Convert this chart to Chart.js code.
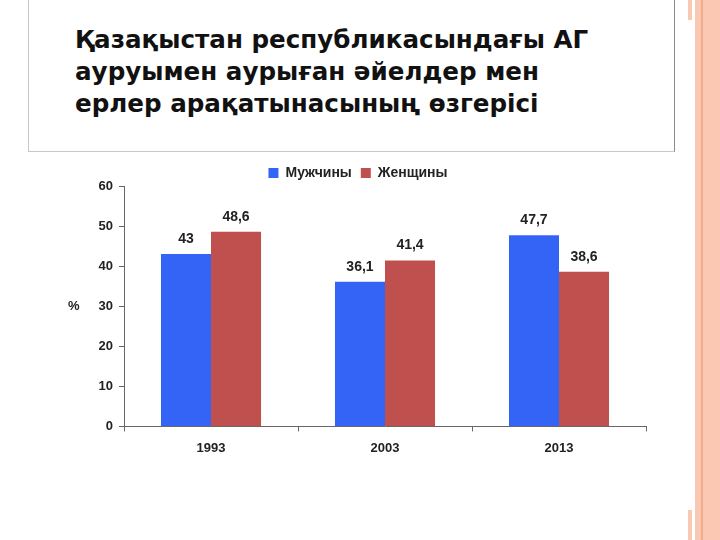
<!DOCTYPE html>
<html>
<head>
<meta charset="utf-8">
<script src="https://cdn.jsdelivr.net/npm/chart.js@4"></script>
<style>
  html, body { margin: 0; padding: 0; background: #fff; }
  body { width: 720px; height: 540px; position: relative; overflow: hidden; }
  #titlebox {
    position: absolute; left: 28px; top: -1px; width: 645px; height: 152px;
    border-left: 1px solid #c8c8c8; border-bottom: 1px solid #c8c8c8; border-right: 1px solid #8a8a8a;
  }
  #titlebox h1 {
    margin: 0; position: absolute; left: 46px; top: 25px;
    font: bold 24.6px "DejaVu Sans", sans-serif; line-height: 32px; color: #111;
  }
  .stripe { position: absolute; top: 0; height: 540px; }
  .tick { position: absolute; width: 4px; background: #f9c9b4; }
  #wrap { position: absolute; left: 0; top: 0; width: 720px; height: 540px; }
</style>
</head>
<body>
<div class="stripe" style="left:695px;width:25px;background:#fbc9b3"></div>
<div class="stripe" style="left:701px;width:2px;background:#f2ab8c"></div>
<div class="tick" style="left:688px;top:0;height:20px"></div>
<div class="tick" style="left:688px;top:510px;height:30px"></div>
<div id="titlebox"><h1>Қазақыстан республикасындағы АГ<br>ауруымен аурыған әйелдер мен<br>ерлер арақатынасының өзгерісі</h1></div>
<div id="wrap"><canvas id="chart" width="720" height="540"></canvas></div>
<script>
const years = ['1993', '2003', '2013'];
const men = [43, 36.1, 47.7];
const women = [48.6, 41.4, 38.6];
const seriesNames = ['Мужчины', 'Женщины'];

const font = 'Liberation Sans, Arial, sans-serif';

// values above the bars, with a comma for decimals
const barLabels = {
  id: 'barLabels',
  afterDatasetsDraw(chart) {
    const ctx = chart.ctx;
    ctx.save();
    ctx.font = 'bold 14px ' + font;
    ctx.fillStyle = '#222';
    ctx.textAlign = 'center';
    ctx.textBaseline = 'bottom';
    chart.data.datasets.forEach((ds, i) => {
      chart.getDatasetMeta(i).data.forEach((bar, j) => {
        ctx.fillText(String(ds.data[j]).replace('.', ','), bar.x, bar.y - 8);
      });
    });
    ctx.restore();
  }
};

// "%" written flat, left of the y axis
const yTitle = {
  id: 'yTitle',
  afterDraw(chart) {
    const y = chart.scales.y;
    const ctx = chart.ctx;
    ctx.save();
    ctx.font = 'bold 13px ' + font;
    ctx.fillStyle = '#222';
    ctx.textAlign = 'left';
    ctx.textBaseline = 'middle';
    ctx.fillText('%', 68, y.getPixelForValue(30));
    ctx.restore();
  }
};

// legend keeps its item spacing but takes less room below it
const shortLegend = {
  id: 'shortLegend',
  beforeInit(chart) {
    const fit = chart.legend.fit;
    chart.legend.fit = function () {
      fit.call(this);
      this.height -= 4;
    };
  }
};

new Chart(document.getElementById('chart'), {
  type: 'bar',
  data: {
    labels: years,
    datasets: [
      { label: seriesNames[0], data: men, backgroundColor: '#3464f6' },
      { label: seriesNames[1], data: women, backgroundColor: '#c0504d' }
    ]
  },
  options: {
    responsive: false,
    animation: false,
    layout: { padding: { left: 70, right: 74, top: 157, bottom: 75 } },
    datasets: { bar: { categoryPercentage: 0.575, barPercentage: 1.0 } },
    plugins: {
      legend: {
        labels: { boxWidth: 10, boxHeight: 10, padding: 9, color: '#222', font: { family: font, size: 14, weight: 'bold' } }
      },
      tooltip: { enabled: false }
    },
    scales: {
      x: {
        grid: { drawOnChartArea: false, tickLength: 5, color: '#666' },
        border: { color: '#666' },
        ticks: { color: '#222', padding: 9, font: { family: font, size: 13, weight: 'bold' } }
      },
      y: {
        min: 0, max: 60,
        afterFit(scale) { scale.width = 54; },
        grid: { drawOnChartArea: false, tickLength: 5, color: '#666' },
        border: { color: '#666' },
        ticks: { stepSize: 10, color: '#222', padding: 6, font: { family: font, size: 13, weight: 'bold' } }
      }
    }
  },
  plugins: [barLabels, yTitle, shortLegend]
});
</script>
</body>
</html>
